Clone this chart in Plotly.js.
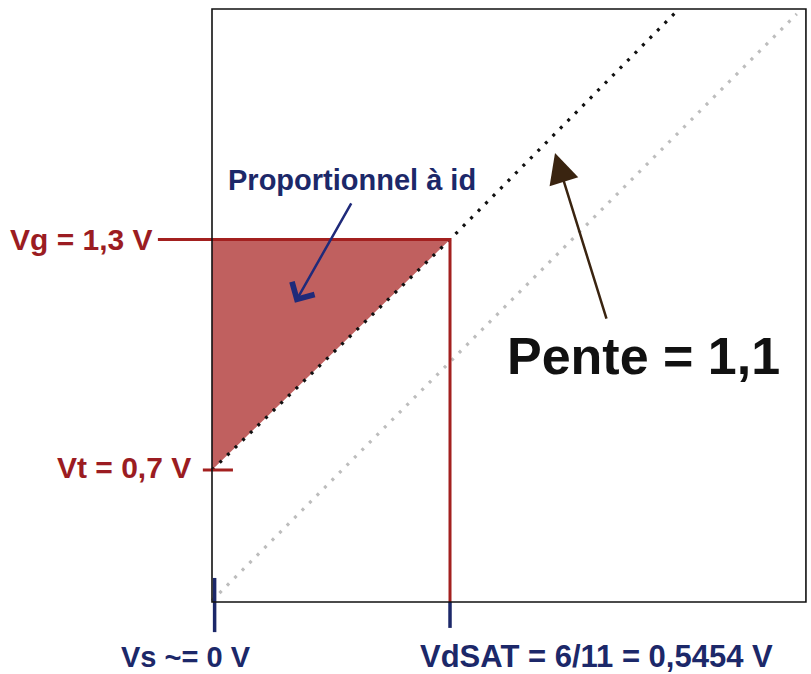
<!DOCTYPE html>
<html>
<head>
<meta charset="utf-8">
<script src="https://cdn.plot.ly/plotly-3.0.1.min.js"></script>
<style>html,body{margin:0;padding:0;background:#fff;}#chart{width:811px;height:674px;}</style>
</head>
<body>
<div id="chart"></div>
<script>
// ---- data (volts) ----
const xLabels = ['Vs ~= 0 V', 'VdSAT = 6/11 = 0,5454 V'];
const xValues = [0, 0.5454];
const yLabels = ['Vg = 1,3 V', 'Vt = 0,7 V'];
const yValues = [1.3, 0.7];
const slopeLineX = [0, 0.5454, 1.07];
const slopeLineY = [0.7, 1.3, 1.9];
const refLineX = [0, 1.34];
const refLineY = [0.36, 1.887];
const boxX = [0, 1.361];
const boxY = [0.3564, 1.9];
const areaX = [0, 0.5454, 0];
const areaY = [1.3, 1.3, 0.7];
const slopeText = 'Pente = 1,1';
const areaText = 'Proportionnel à id';

// ---- styling ----
const RED = '#a3201f', RED_TXT = '#9b1c22', NAVY = '#1c2869', FILL = '#c0605f';
const FONT = 'Liberation Sans, Arial, sans-serif';
const vgStart = -0.124;           // start of the Vg guide (left, near its label)
const vtTick = [-0.021, 0.048];   // extent of the Vt tick
const vsTick = [0.419, 0.278];    // extent of the Vs tick
const vdTick = [boxY[0], 0.289];  // extent of the VdSAT tick (below the box)
const vsTickX = 0.006;            // Vs tick drawn just right of the frame

const traces = [
  {x: areaX, y: areaY, mode: 'lines', fill: 'toself', fillcolor: FILL,
   line: {width: 0, color: FILL}, hoverinfo: 'skip'},
  {x: refLineX, y: refLineY, mode: 'lines',
   line: {color: '#bdbdbd', width: 3.2, dash: '3px,7.6px'}, hoverinfo: 'skip'},
  {x: slopeLineX, y: slopeLineY, mode: 'lines',
   line: {color: '#111', width: 3.2, dash: '3px,7.6px'}, hoverinfo: 'skip'},
  {x: [vgStart, xValues[1], xValues[1]], y: [yValues[0], yValues[0], boxY[0]], mode: 'lines',
   line: {color: RED, width: 3}, hoverinfo: 'skip'},
  {x: vtTick, y: [yValues[1], yValues[1]], mode: 'lines',
   line: {color: RED, width: 3}, hoverinfo: 'skip'},
  {x: [xValues[0] + vsTickX, xValues[0] + vsTickX], y: vsTick, mode: 'lines',
   line: {color: NAVY, width: 3.5}, hoverinfo: 'skip'},
  {x: [xValues[1], xValues[1]], y: vdTick, mode: 'lines',
   line: {color: NAVY, width: 3.5}, hoverinfo: 'skip'}
];

const annotations = [
  {x: -0.131, y: yValues[0], text: '<b>' + yLabels[0] + '</b>', xanchor: 'right', yanchor: 'middle',
   showarrow: false, font: {family: FONT, size: 30, color: RED_TXT}},
  {x: -0.044, y: yValues[1] + 0.006, text: '<b>' + yLabels[1] + '</b>', xanchor: 'right', yanchor: 'middle',
   showarrow: false, font: {family: FONT, size: 30, color: RED_TXT}},
  {x: -0.06, y: 0.214, text: '<b>' + xLabels[0] + '</b>', xanchor: 'center', yanchor: 'middle',
   showarrow: false, borderpad: 0, font: {family: FONT, size: 29, color: NAVY}},
  {x: 0.881, y: 0.214, text: '<b>' + xLabels[1] + '</b>', xanchor: 'center', yanchor: 'middle',
   showarrow: false, borderpad: 0, font: {family: FONT, size: 31, color: NAVY}},
  {x: 0.321, y: 1.455, text: '<b>' + areaText + '</b>', xanchor: 'center', yanchor: 'middle',
   showarrow: false, font: {family: FONT, size: 29, color: NAVY}},
  {x: 0.989, y: 0.997, text: '<b>' + slopeText + '</b>', xanchor: 'center', yanchor: 'middle',
   showarrow: false, font: {family: FONT, size: 52, color: '#111'}},
  // arrows
  {x: 0.190, y: 1.135, ax: 0.321, ay: 1.398, axref: 'x', ayref: 'y', xref: 'x', yref: 'y',
   text: '', showarrow: true, arrowhead: 4, arrowsize: 2, arrowwidth: 2.5, arrowcolor: '#1f2a7a'},
  {x: 0.786, y: 1.525, ax: 0.905, ay: 1.090, axref: 'x', ayref: 'y', xref: 'x', yref: 'y',
   text: '', showarrow: true, arrowhead: 2, arrowsize: 2.4, arrowwidth: 2.5, arrowcolor: '#3a2410'}
];

const layout = {
  width: 811, height: 674,
  margin: {l: 0, r: 0, t: 0, b: 0},
  paper_bgcolor: '#fff', plot_bgcolor: '#fff',
  showlegend: false,
  xaxis: {range: [-0.4858, 1.3726], visible: false, fixedrange: true},
  yaxis: {range: [0.169, 1.9233], visible: false, fixedrange: true},
  shapes: [
    {type: 'rect', xref: 'x', yref: 'y', x0: boxX[0], x1: boxX[1], y0: boxY[0], y1: boxY[1],
     line: {color: '#111', width: 1.6}, layer: 'above'}
  ],
  annotations: annotations
};

Plotly.newPlot('chart', traces, layout, {staticPlot: true, displayModeBar: false});
</script>
</body>
</html>
